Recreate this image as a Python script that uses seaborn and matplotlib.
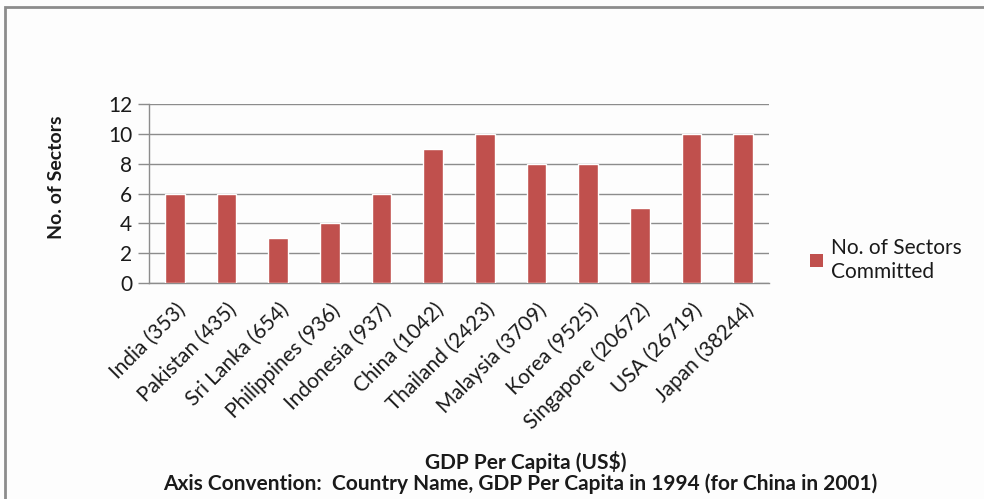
import matplotlib
matplotlib.use("Agg")
import matplotlib.pyplot as plt
import seaborn as sns
import pandas as pd
from matplotlib.patches import Rectangle

countries = ["India (353)", "Pakistan (435)", "Sri Lanka (654)", "Philippines (936)",
             "Indonesia (937)", "China (1042)", "Thailand (2423)", "Malaysia (3709)",
             "Korea (9525)", "Singapore (20672)", "USA (26719)", "Japan (38244)"]
sectors = [6, 6, 3, 4, 6, 9, 10, 8, 8, 5, 10, 10]
series_name = "No. of Sectors\nCommitted"
y_ticks = [0, 2, 4, 6, 8, 10, 12]

sns.set_theme(style="white")
plt.rcParams["font.family"] = ["Lato", "DejaVu Sans"]

W, H = 984, 499
TXT = "#1A1A1A"
fig = plt.figure(figsize=(W / 100, H / 100), dpi=100, facecolor="#FDFDFD")
ax = fig.add_axes([149 / W, 1 - 283 / H, 620 / W, 179 / H])
ax.set_facecolor("#FDFDFD")

df = pd.DataFrame({"country": countries, "sectors": sectors})
sns.barplot(data=df, x="country", y="sectors", color="#C0504D", saturation=1,
            width=0.38, label=series_name, legend=False, ax=ax, zorder=3)
if ax.get_legend() is not None:
    ax.get_legend().remove()

ax.set_ylim(0, 12)
ax.set_xlim(-0.5, len(countries) - 0.5)
ax.set_yticks(y_ticks)
ax.yaxis.grid(True, color="#8C8C8C", linewidth=1.0, zorder=0)
ax.set_axisbelow(True)
for s in ["top", "right"]:
    ax.spines[s].set_visible(False)
for s in ["left", "bottom"]:
    ax.spines[s].set_color("#8C8C8C")
    ax.spines[s].set_linewidth(1.0)
ax.tick_params(axis="y", which="major", left=True, length=8, width=1.0,
               color="#8C8C8C", labelsize=15, labelcolor=TXT, pad=4)
ax.tick_params(axis="x", bottom=False, labelsize=15, labelcolor=TXT, pad=6)
for lab in ax.get_xticklabels():
    lab.set_rotation(45)
    lab.set_ha("right")
    lab.set_rotation_mode("anchor")
ax.set_xlabel("")
ax.set_ylabel("")

fig.text(57 / W, 1 - 177 / H, "No. of Sectors", rotation=90, ha="center", va="center",
         fontsize=14, fontweight="bold", color=TXT)
fig.text(526 / W, 1 - 462 / H, "GDP Per Capita (US$)", ha="center", va="center",
         fontsize=15, fontweight="bold", color=TXT)
fig.text(520 / W, 1 - 484 / H,
         "Axis Convention:  Country Name, GDP Per Capita in 1994 (for China in 2001)",
         ha="center", va="center", fontsize=15, fontweight="bold", color=TXT)

bar_handle = Rectangle((0, 0), 1, 1, facecolor="#C0504D", edgecolor="none")
fig.legend([bar_handle], [series_name], loc="upper left",
           bbox_to_anchor=(802 / W, 1 - 230 / H),
           frameon=False, fontsize=15, handlelength=0.6, handleheight=0.6,
           handletextpad=0.4, borderaxespad=0, labelcolor=TXT)

fig.patches.append(Rectangle((5 / W, -0.1), 1.2, 1 - 7 / H + 0.1, transform=fig.transFigure,
                             fill=False, edgecolor="#8C8C8C", linewidth=2.0))

fig.savefig("out.png", dpi=100, facecolor=fig.get_facecolor())
